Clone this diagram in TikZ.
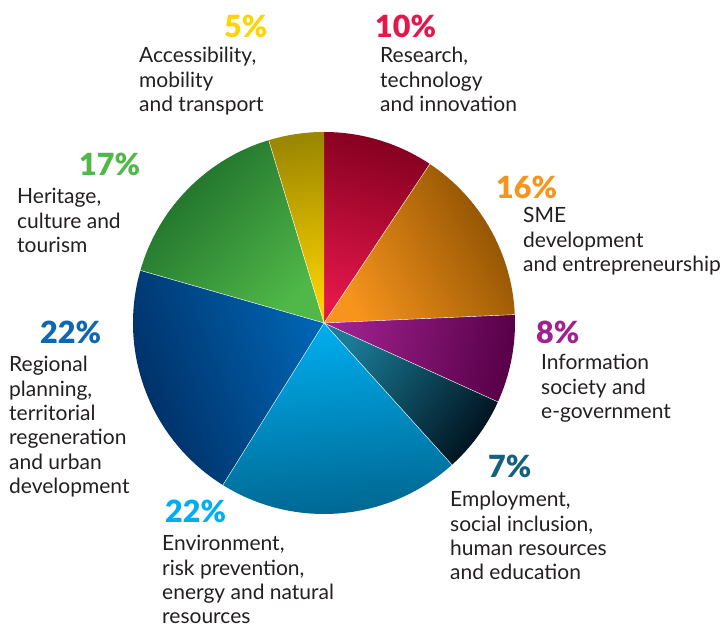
\documentclass[tikz,border=0pt]{standalone}
\usepackage{fontspec}
\setmainfont{Lato}
\newfontfamily\pctfont{Lato Black}
\usepackage{tikz}
\usepackage{xcolor}

\definecolor{textgray}{HTML}{231F20}
\definecolor{resred}{HTML}{E4174B}\definecolor{resdark}{HTML}{85001F}
\definecolor{smeorange}{HTML}{F7941D}\definecolor{smedark}{HTML}{8A4F00}
\definecolor{infopurple}{HTML}{A02290}\definecolor{infodark}{HTML}{580048}
\definecolor{empteal}{HTML}{1A7B96}\definecolor{empdark}{HTML}{001420}
\definecolor{envcyan}{HTML}{00AEEF}\definecolor{envdark}{HTML}{00618A}
\definecolor{regblue}{HTML}{0064B2}\definecolor{regdark}{HTML}{002A5E}
\definecolor{hergreen}{HTML}{50B848}\definecolor{herdark}{HTML}{1C6B2A}
\definecolor{accyellow}{HTML}{FFD500}\definecolor{accdark}{HTML}{9C8700}
\definecolor{pctteal}{HTML}{16607E}\definecolor{pctblue}{HTML}{0F67B1}

\begin{document}
\begin{tikzpicture}[x=1pt,y=1pt,
  pct/.style={font=\fontsize{30.5}{30.5}\pctfont,inner sep=0pt,anchor=base west},
  lbl/.style={font=\fontsize{21}{24.3}\selectfont,text=textgray,align=left,inner sep=0pt,anchor=base west},
  sep/.style={draw=white,line width=0.4pt}]
\useasboundingbox (0,0) rectangle (726,628);
\coordinate (c) at (324,305);
% slices, clockwise from the top, 107 parts in all
\shade[top color=resdark,bottom color=resred,shading angle=-16.82] (c) -- ++(90:191) arc (90:56.355:191) -- cycle;
\shade[top color=smedark,bottom color=smeorange,shading angle=-60.56] (c) -- ++(56.355:191) arc (56.355:2.523:191) -- cycle;
\shade[top color=infodark,bottom color=infopurple,shading angle=-100.94] (c) -- ++(2.523:191) arc (2.523:-24.393:191) -- cycle;
\shade[top color=empdark,bottom color=empteal,shading angle=-126.17] (c) -- ++(-24.393:191) arc (-24.393:-47.944:191) -- cycle;
\shade[top color=envdark,bottom color=envcyan,shading angle=-174.95] (c) -- ++(-47.944:191) arc (-47.944:-121.963:191) -- cycle;
\shade[top color=regdark,bottom color=regblue,shading angle=111.03] (c) -- ++(-121.963:191) arc (-121.963:-195.981:191) -- cycle;
\shade[top color=herdark,bottom color=hergreen,shading angle=45.42] (c) -- ++(-195.981:191) arc (-195.981:-253.178:191) -- cycle;
\shade[top color=accdark,bottom color=accyellow,shading angle=8.41] (c) -- ++(-253.178:191) arc (-253.178:-270:191) -- cycle;
\draw[sep] (c) -- ++(56.355:191);
\draw[sep] (c) -- ++(2.523:191);
\draw[sep] (c) -- ++(-24.393:191);
\draw[sep] (c) -- ++(-47.944:191);
\draw[sep] (c) -- ++(-121.963:191);
\draw[sep] (c) -- ++(-195.981:191);
\draw[sep] (c) -- ++(-253.178:191);
%\draw[sep] (c) -- ++(90:191);
% labels: the base of a text is its last line
\node[pct,text=accyellow] (acc pct) at (224,590) {5\%};
\node[lbl] (acc) at (139,516.4) {Accessibility,\\mobility\\and transport};
\node[pct,text=resred] (res pct) at (375,590) {10\%};
\node[lbl] (res) at (380,516.4) {Research,\\technology\\and innovation};
\node[pct,text=smeorange] (sme pct) at (496,429) {16\%};
\node[lbl] (sme) at (523,356.4) {SME\\development\\and entrepreneurship};
\node[pct,text=infopurple] (info pct) at (536,284) {8\%};
\node[lbl] (info) at (541,209.4) {Information\\society and\\e-government};
\node[pct,text=pctteal] (emp pct) at (488,150) {7\%};
\node[lbl] (emp) at (450,48.1) {Employment,\\social inclusion,\\human resources\\and education};
\node[pct,text=envcyan] (env pct) at (165,105) {22\%};
\node[lbl] (env) at (162,4.1) {Environment,\\risk prevention,\\energy and natural\\resources};
\node[pct,text=pctblue] (reg pct) at (40,284) {22\%};
\node[lbl] (reg) at (9,134.5) {Regional\\planning,\\territorial\\regeneration\\and urban\\development};
\node[pct,text=hergreen] (her pct) at (79,452) {17\%};
\node[lbl] (her) at (17,375.4) {Heritage,\\culture and\\tourism};
\end{tikzpicture}
\end{document}
